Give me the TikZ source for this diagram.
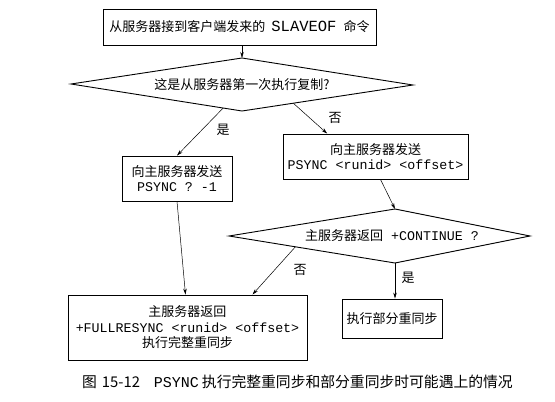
\documentclass[tikz,border=0pt]{standalone}
\usepackage{fontspec}
\setmainfont{Noto Sans CJK SC}
\setmonofont{Liberation Mono}
\usetikzlibrary{arrows.meta,calc}

\newcommand{\cmd}[2][13.3]{{\fontsize{#1}{15.5}\selectfont\ttfamily #2}}

\begin{document}
\begin{tikzpicture}[x=1pt, y=-1pt,
    box/.style={draw, line width=0.9pt, align=center, inner sep=0pt, font=\fontsize{13}{15.5}\selectfont},
    flow/.style={-{Stealth[length=6pt,width=3.5pt]}, line width=0.5pt},
    tag/.style={font=\fontsize{13}{15}\selectfont}]
    \useasboundingbox (0,0) rectangle (555,402);

    % Draw start box
    \node[box, minimum width=273, minimum height=36] (start) at (239.5,27) {从服务器接到客户端发来的\hspace{6pt}\cmd[15.5]{SLAVEOF}\hspace{7pt}命令};

    % First decision
    \coordinate (d1n) at (242,58);
    \coordinate (d1e) at (413,85);
    \coordinate (d1s) at (242,111);
    \coordinate (d1w) at (71,84);
    \draw[line width=0.9pt] (d1n) -- (d1e) -- (d1s) -- (d1w) -- cycle;
    \node[tag] (q1) at (242,84.5) {这是从服务器第一次执行复制?};

    % Send PSYNC boxes
    \node[box, minimum width=110, minimum height=45] (full1) at (177,178.5) {向主服务器发送\\\cmd{PSYNC ? -1}};
    \node[box, minimum width=185, minimum height=45] (part1) at (375.5,156.5) {向主服务器发送\\\cmd{PSYNC <runid> <offset>}};

    % Second decision
    \coordinate (d2n) at (395,209);
    \coordinate (d2e) at (530,236);
    \coordinate (d2s) at (395,263);
    \coordinate (d2w) at (229,236);
    \draw[line width=0.9pt] (d2n) -- (d2e) -- (d2s) -- (d2w) -- cycle;
    \node[tag] (q2) at (392,236) {主服务器返回\hspace{8pt}\cmd{+CONTINUE ?}};

    % Result boxes
    \node[box, minimum width=239, minimum height=65] (fullsync) at (187.5,327.5) {主服务器返回\\\cmd{+FULLRESYNC <runid> <offset>}\\执行完整重同步};
    \node[box, minimum width=100, minimum height=39] (partsync) at (392,318.5) {执行部分重同步};

    % Connectors
    \draw[flow] (d1n |- start.south) -- (d1n);
    \draw[flow] ($(d1s)!0.11!(d1w)$) -- (full1.north);
    \draw[flow] ($(d1s)!0.3!(d1e)$) -- ($(part1.north west)!0.24!(part1.north east)$);
    \draw[flow] ($(part1.south)+(5,0)$) -- (d2n);
    \draw[flow] (full1.south) -- ($(fullsync.north)+(-2,0)$);
    \draw[flow] ($(d2s)!0.6!(d2w)$) -- ($(fullsync.north)+(65,0)$);
    \draw[flow] (d2s) -- (d2s |- partsync.north);

    % Branch labels
    \node[tag] (yes1) at (223,130) {是};
    \node[tag] (no1) at (335,118) {否};
    \node[tag] (no2) at (300,270) {否};
    \node[tag] (yes2) at (408,278) {是};

    % Caption
    \node[anchor=west, inner sep=0pt, font=\fontsize{14.8}{16}\selectfont] (caption) at (82,382) {图\hspace{5pt}15-12\hspace{14pt}\cmd[15]{PSYNC}\hspace{3pt}执行完整重同步和部分重同步时可能遇上的情况};
\end{tikzpicture}
\end{document}
